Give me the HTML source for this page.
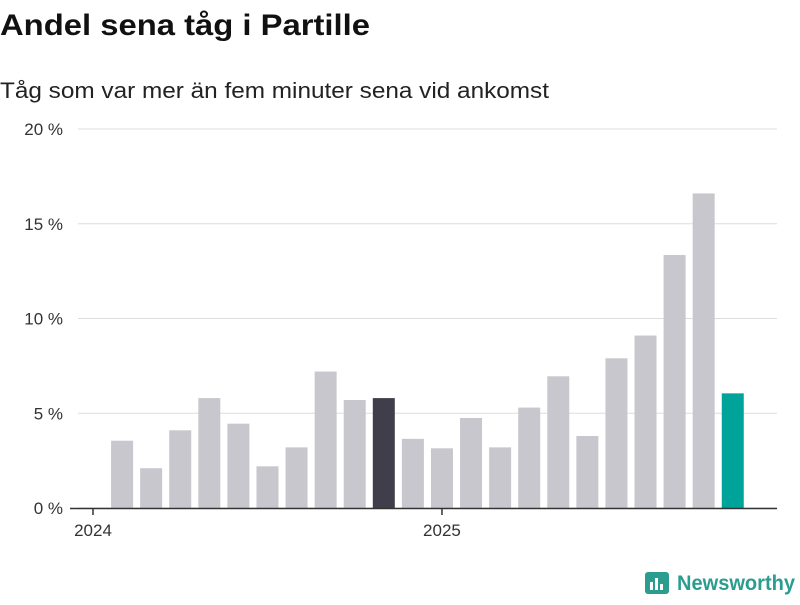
<!DOCTYPE html>
<html><head><meta charset="utf-8">
<style>
body{margin:0;width:800px;height:600px;background:#fff;font-family:"Liberation Sans","DejaVu Sans",sans-serif;overflow:hidden}
</style></head>
<body>
<svg id="chart" width="800" height="600" xmlns="http://www.w3.org/2000/svg">
<text x="0" y="35" font-size="30" font-weight="bold" fill="#111" textLength="370" lengthAdjust="spacingAndGlyphs">Andel sena tåg i Partille</text>
<text x="0" y="98" font-size="22" fill="#222" textLength="549" lengthAdjust="spacingAndGlyphs">Tåg som var mer än fem minuter sena vid ankomst</text>
<g id="grid"></g><g id="bars"></g><g id="xaxis"></g>
<g>
<rect x="645" y="572" width="24" height="22" rx="3" fill="#2a9d8f"/>
<rect x="650" y="582" width="3" height="8" fill="#fff"/><rect x="655" y="578" width="3" height="12" fill="#fff"/><rect x="660" y="584" width="3" height="6" fill="#fff"/>
<text x="677" y="590" font-size="21" font-weight="bold" fill="#2a9d8f" textLength="118" lengthAdjust="spacingAndGlyphs">Newsworthy</text>
</g>
</svg>
<script>
const months=["2024-02","2024-03","2024-04","2024-05","2024-06","2024-07","2024-08","2024-09","2024-10","2024-11","2024-12","2025-01","2025-02","2025-03","2025-04","2025-05","2025-06","2025-07","2025-08","2025-09","2025-10","2025-11"];
const values=[3.55,2.1,4.1,5.8,4.45,2.2,3.2,7.2,5.7,5.8,3.65,3.15,4.75,3.2,5.3,6.95,3.8,7.9,9.1,13.35,16.6,6.05];
const highlights=["2024-11","2025-11"];
const yTicks=[0,5,10,15,20];
const yTickLabels=["0 %","5 %","10 %","15 %","20 %"];
const xTickLabels=["2024","2025"];
const NS="http://www.w3.org/2000/svg";
function y(v){return 508-v*18.95;}
function xm(m){const [yr,mo]=m.split("-").map(Number);return 93+((yr-2024)*12+(mo-1))*29.08;}
function mk(tag,attrs,parent){const e=document.createElementNS(NS,tag);for(const k in attrs)e.setAttribute(k,attrs[k]);parent.appendChild(e);return e;}
const grid=document.getElementById("grid"),bars=document.getElementById("bars"),xa=document.getElementById("xaxis");
yTicks.forEach((t,i)=>{
 const l=mk("line",{x1:78,x2:777,y1:y(t),y2:y(t),stroke:"#ddd","stroke-width":1},grid);
 
 
 const tx=mk("text",{x:63,y:y(t)+6,"font-size":17,fill:"#333","text-anchor":"end"},grid);
 tx.textContent=yTickLabels[i];
 
 
});
months.forEach((m,i)=>{
 const c=m===highlights[0]?"#403e4a":(m===highlights[1]?"#00a39a":"#c8c7ce");
 const r=mk("rect",{x:xm(m)-11,y:y(values[i]),width:22,height:508-y(values[i]),fill:c},bars);
 
 
});
const ax=mk("line",{x1:70,x2:777,y1:508.5,y2:508.5,stroke:"#333","stroke-width":1.5},xa);


xTickLabels.forEach(lab=>{
 const x=xm(lab+"-01");
 const tk=mk("line",{x1:x,x2:x,y1:508,y2:515,stroke:"#333","stroke-width":1.5},xa);
 
 
 const t=mk("text",{x:x,y:536,"font-size":17,fill:"#333","text-anchor":"middle"},xa);
 t.textContent=lab;
 
 
});
</script>
</body></html>
